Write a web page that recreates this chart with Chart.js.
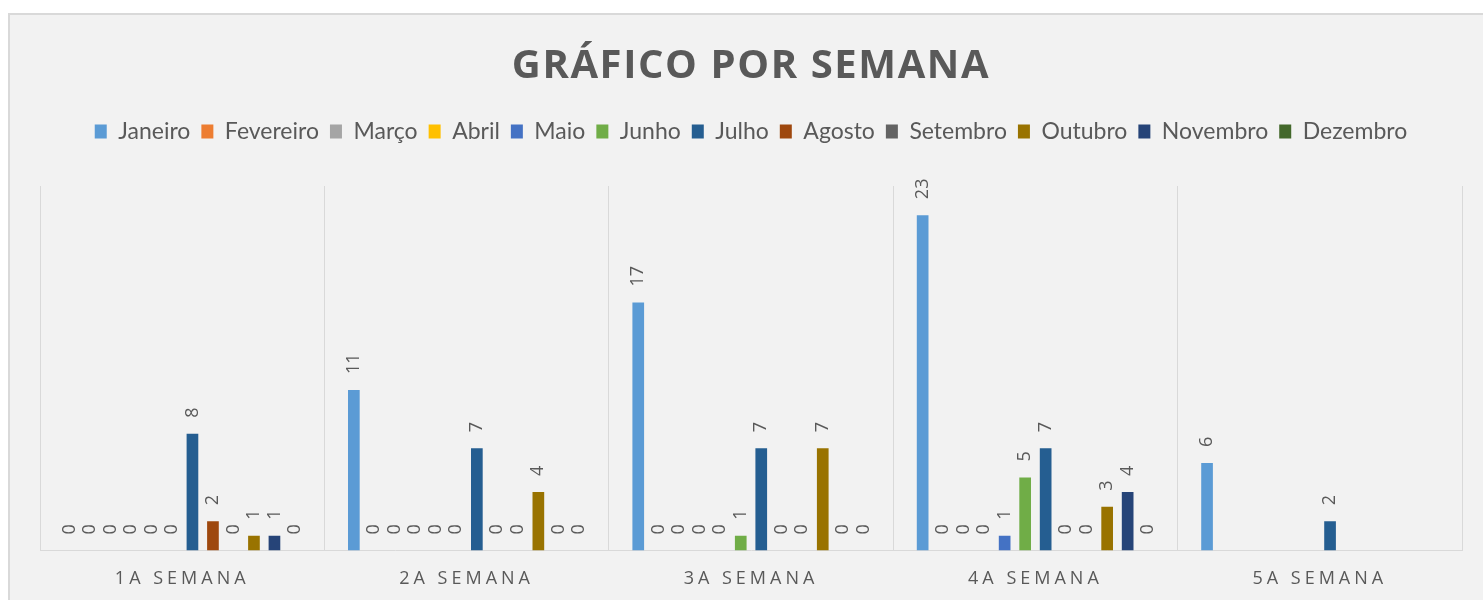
<!DOCTYPE html>
<html><head><meta charset="utf-8">
<script src="https://cdn.jsdelivr.net/npm/chart.js@4.4.1/dist/chart.umd.min.js"></script>
<style>
html,body{margin:0;padding:0;background:#fff;width:1483px;height:600px;overflow:hidden}
#frame{position:absolute;left:8px;top:13px;width:1475px;height:587px;border-left:2px solid #d9d9d9;border-top:2px solid #d9d9d9;background:#f2f2f2;overflow:hidden}
#c{position:absolute;left:0;top:0}
</style></head><body>
<div id="frame"><canvas id="c" width="1473" height="600"></canvas></div>
<script>
const categories = ['1A SEMANA','2A SEMANA','3A SEMANA','4A SEMANA','5A SEMANA'];
const seriesNames = ['Janeiro','Fevereiro','Março','Abril','Maio','Junho','Julho','Agosto','Setembro','Outubro','Novembro','Dezembro'];
const seriesColors = ['#5B9BD5','#ED7D31','#A5A5A5','#FFC000','#4472C4','#70AD47','#255E91','#9E480E','#636363','#997300','#264478','#43682B'];
const janeiro   = [0, 11, 17, 23, 6];
const fevereiro = [0, 0, 0, 0, null];
const marco     = [0, 0, 0, 0, null];
const abril     = [0, 0, 0, 0, null];
const maio      = [0, 0, 0, 1, null];
const junho     = [0, 0, 1, 5, null];
const julho     = [8, 7, 7, 7, 2];
const agosto    = [2, 0, 0, 0, null];
const setembro  = [0, 0, 0, 0, null];
const outubro   = [1, 4, 7, 3, null];
const novembro  = [1, 0, 0, 4, null];
const dezembro  = [0, 0, 0, 0, null];
const seriesValues = [janeiro,fevereiro,marco,abril,maio,junho,julho,agosto,setembro,outubro,novembro,dezembro];
const yMax = 25;

const TXT = '#595959';

class SpacedCategoryScale extends Chart.CategoryScale {
  drawLabels(area) {
    const ctx = this.ctx;
    ctx.save();
    ctx.letterSpacing = '4px';
    super.drawLabels(area);
    ctx.restore();
  }
}
SpacedCategoryScale.id = 'spacedCategory';
SpacedCategoryScale.defaults = Chart.CategoryScale.defaults;
Chart.register(SpacedCategoryScale);

const valueLabels = {
  id: 'valueLabels',
  afterDatasetsDraw(chart) {
    const ctx = chart.ctx;
    ctx.save();
    ctx.font = '18px "Open Sans"';
    ctx.fillStyle = TXT;
    ctx.textAlign = 'left';
    ctx.textBaseline = 'middle';
    chart.data.datasets.forEach((ds, i) => {
      const meta = chart.getDatasetMeta(i);
      meta.data.forEach((el, j) => {
        const v = ds.data[j];
        if (v === null || v === undefined) return;
        ctx.save();
        ctx.translate(el.x, el.y - 16);
        ctx.rotate(-Math.PI / 2);
        ctx.fillText(String(v), 0, 0);
        ctx.restore();
      });
    });
    ctx.restore();
  }
};

const chart = new Chart(document.getElementById('c'), {
  type: 'bar',
  data: {
    labels: categories,
    datasets: seriesNames.map((n, i) => ({
      label: n,
      data: seriesValues[i],
      backgroundColor: seriesColors[i],
      borderWidth: 0,
      barPercentage: 0.57,
      categoryPercentage: 0.865
    }))
  },
  options: {
    responsive: false,
    animation: false,
    events: [],
    layout: { padding: { left: 30, right: 21, top: 0, bottom: 7 } },
    plugins: {
      title: {
        display: true,
        text: 'GRÁFICO POR SEMANA',
        color: TXT,
        font: { family: 'Open Sans', size: 40, weight: 'bold' },
        padding: { top: 28, bottom: 18 }
      },
      legend: {
        display: true,
        position: 'top',
        labels: {
          color: TXT,
          font: { family: 'Lato', size: 23 },
          boxWidth: 12,
          boxHeight: 14,
          padding: 11
        }
      },
      tooltip: { enabled: false }
    },
    scales: {
      x: {
        type: 'spacedCategory',
        grid: { color: '#d9d9d9', drawTicks: false, offset: true },
        border: { color: '#d9d9d9' },
        ticks: { color: TXT, font: { family: 'Open Sans', size: 18 }, padding: 18, autoSkip: false, maxRotation: 0 }
      },
      spacer: {
        type: 'category',
        axis: 'x',
        position: 'top',
        display: true,
        grid: { display: false, drawTicks: false },
        border: { display: false },
        ticks: { display: false },
        afterFit(scale) { scale.height = 33; }
      },
      y: { display: false, min: 0, max: yMax }
    }
  },
  plugins: [valueLabels]
});

if (chart.titleBlock) {
  const tb = chart.titleBlock;
  const orig = tb.draw;
  tb.draw = function(...a) {
    const ctx = this.ctx;
    ctx.save();
    ctx.letterSpacing = '1.6px';
    orig.apply(this, a);
    ctx.restore();
  };
}
chart.draw();
</script>
</body></html>
